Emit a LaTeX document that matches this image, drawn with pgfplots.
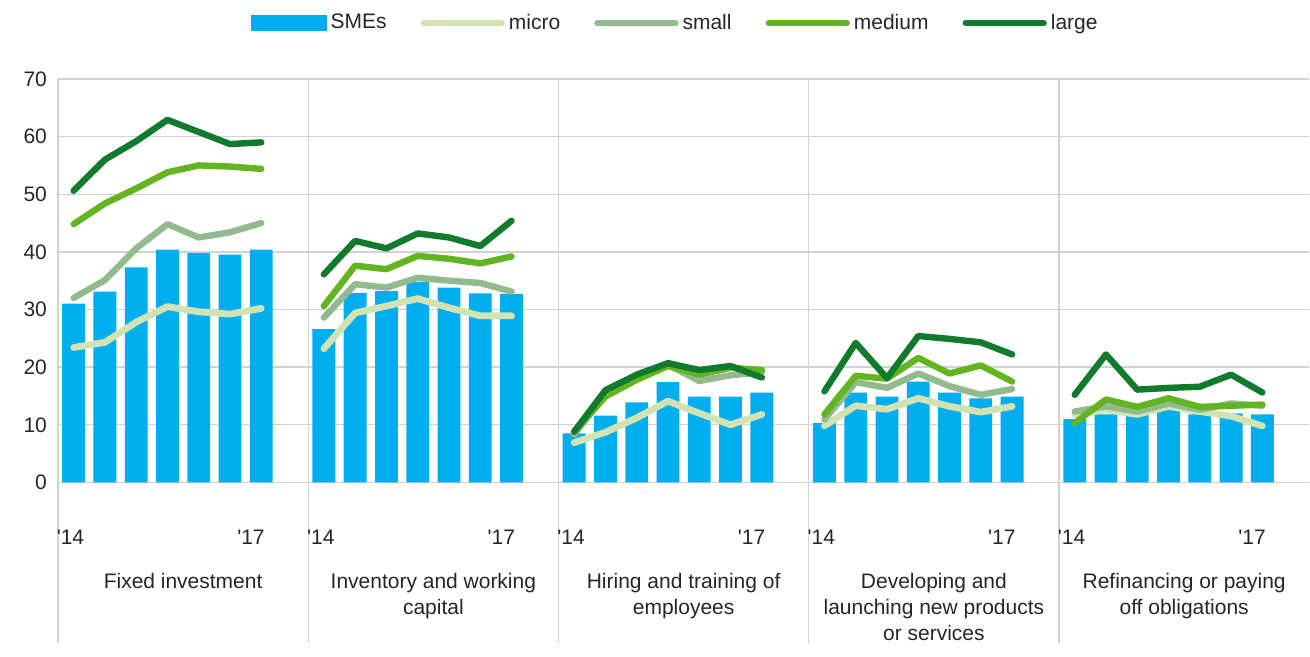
\documentclass[border=0pt]{standalone}
\usepackage{pgfplots}
\usepackage{pgfplotstable}
\usepackage{fontspec}
\setmainfont{Liberation Sans}
\pgfplotsset{compat=1.18}
\definecolor{smeblue}{HTML}{00AEEF}
\definecolor{microc}{HTML}{D2E2B2}
\definecolor{smallc}{HTML}{92BA8E}
\definecolor{mediumc}{HTML}{62B420}
\definecolor{largec}{HTML}{117A2C}
\definecolor{txt}{HTML}{262626}

\pgfplotsset{thickline legend/.style={legend image code/.code={
    \draw[##1, line width=3.2pt, line cap=round] (0pt,0pt) -- (39pt,0pt);}}}

% x = 8*group + period + 0.5, nan rows break the lines between groups
\pgfplotstableread{
x    sme  micro small medium large
0.5  31.0 23.4 32.0 44.8 50.6
1.5  33.1 24.3 35.1 48.4 56.0
2.5  37.3 27.8 40.6 51.0 59.2
3.5  40.4 30.5 44.8 53.8 62.9
4.5  39.8 29.6 42.5 55.0 60.8
5.5  39.5 29.2 43.4 54.8 58.7
6.5  40.4 30.2 45.0 54.4 59.0
7.5  nan  nan  nan  nan  nan
8.5  26.6 23.2 28.6 30.6 36.1
9.5  32.9 29.4 34.4 37.6 41.9
10.5 33.2 30.6 33.8 37.0 40.6
11.5 34.8 31.9 35.5 39.3 43.2
12.5 33.8 30.3 35.0 38.8 42.5
13.5 32.8 28.9 34.6 38.0 41.0
14.5 32.7 28.9 33.1 39.2 45.4
15.5 nan  nan  nan  nan  nan
16.5 8.5  6.9  8.3  8.8  8.8
17.5 11.6 8.7  15.3 14.9 16.0
18.5 13.9 11.2 18.1 17.8 18.7
19.5 17.4 14.1 20.4 20.2 20.7
20.5 14.9 12.0 17.6 18.7 19.5
21.5 14.9 10.0 18.6 19.9 20.2
22.5 15.6 11.8 19.1 19.5 18.2
23.5 nan  nan  nan  nan  nan
24.5 10.3 9.8  10.9 11.8 15.8
25.5 15.6 13.3 17.4 18.5 24.2
26.5 14.9 12.7 16.4 18.0 18.1
27.5 17.5 14.6 18.9 21.6 25.4
28.5 15.6 13.2 16.7 18.9 24.9
29.5 14.6 12.2 15.2 20.3 24.3
30.5 14.9 13.2 16.2 17.5 22.2
31.5 nan  nan  nan  nan  nan
32.5 11.0 11.8 12.3 10.3 15.2
33.5 11.8 12.6 13.2 14.4 22.2
34.5 11.8 11.8 12.3 13.1 16.1
35.5 12.7 13.2 13.7 14.6 16.4
36.5 11.8 12.3 12.6 13.1 16.6
37.5 12.0 11.5 13.7 13.3 18.7
38.5 11.8 9.8  13.3 13.5 15.6
}\datatable

\begin{document}
\begin{tikzpicture}[font=\fontsize{10.5}{13}\selectfont, text=txt]
\begin{axis}[
    scale only axis,
    width=626pt, height=282pt,
    xmin=0, xmax=40,
    ymin=-27.8, ymax=70,
    ytick={0,10,...,70},
    xtick=\empty,
    extra x ticks={0,8,16,24,32},
    extra x tick labels={},
    extra x tick style={grid=major},
    ymajorgrids,
    grid style={gray!35, line width=0.7pt},
    axis line style={draw=none},
    major tick length=0pt,
    /pgf/number format/assume math mode=true,
    yticklabel style={font=\fontsize{10.5}{13}\selectfont, text=txt, xshift=-2pt},
    unbounded coords=jump,
    clip=false,
    legend columns=-1,
    legend style={at={(0.494,1.099)}, anchor=center, draw=none, fill=none,
        font=\fontsize{10.5}{13}\selectfont, text=txt,
        /tikz/every odd column/.append style={column sep=0pt},
        /tikz/every even column/.append style={column sep=15pt}},
]
\addplot[ybar, bar width=0.73, fill=smeblue, draw=none,
    legend image code/.code={\fill[smeblue] (0pt,-4pt) rectangle (38pt,4pt);}]
    table[x=x, y=sme] {\datatable};
\addplot[microc, line width=3.4pt, line join=round, line cap=round, thickline legend]
    table[x=x, y=micro] {\datatable};
\addplot[smallc, line width=3.2pt, line join=round, line cap=round, thickline legend]
    table[x=x, y=small] {\datatable};
\addplot[mediumc, line width=3.2pt, line join=round, line cap=round, thickline legend]
    table[x=x, y=medium] {\datatable};
\addplot[largec, line width=3.2pt, line join=round, line cap=round, thickline legend]
    table[x=x, y=large] {\datatable};
\legend{SMEs, micro, small, medium, large}

\pgfplotsinvokeforeach{0,8,16,24,32}{
    \node[anchor=west, inner sep=0pt] at (axis cs:#1-0.05,-9.6) {\textquotesingle14};
    \node[anchor=east, inner sep=0pt] at (axis cs:#1+6.62,-9.6) {\textquotesingle17};
}
\node[anchor=north, align=center] at (axis cs:4,-14.6) {Fixed investment};
\node[anchor=north, align=center] at (axis cs:12,-14.6) {Inventory and working\\capital};
\node[anchor=north, align=center] at (axis cs:20,-14.6) {Hiring and training of\\employees};
\node[anchor=north, align=center] at (axis cs:28,-14.6) {Developing and\\launching new products\\or services};
\node[anchor=north, align=center] at (axis cs:36,-14.6) {Refinancing or paying\\off obligations};
\coordinate (bl) at (rel axis cs:0,0);
\coordinate (tr) at (rel axis cs:1,1);
\end{axis}
\path ([xshift=-29pt]bl) rectangle ([yshift=39.5pt]tr);
\end{tikzpicture}
\end{document}
